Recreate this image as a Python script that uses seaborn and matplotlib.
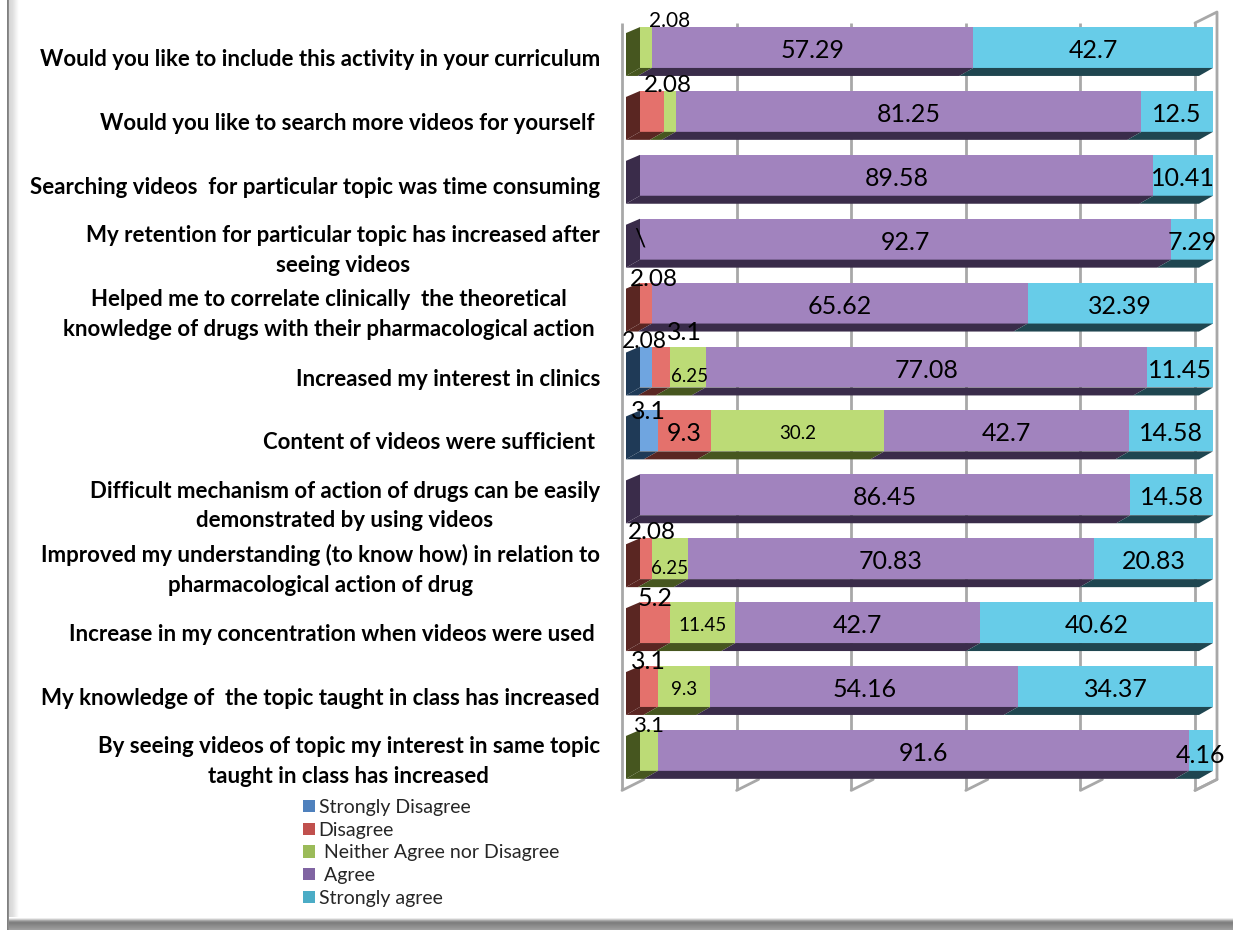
import numpy as np
import pandas as pd
import seaborn as sns
import matplotlib.pyplot as plt
from matplotlib.patches import Patch, Polygon
from matplotlib.transforms import ScaledTranslation

statements = [
    "Would you like to include this activity in your curriculum",
    "Would you like to search more videos for yourself ",
    "Searching videos  for particular topic was time consuming",
    "My retention for particular topic has increased after\nseeing videos",
    "Helped me to correlate clinically  the theoretical \nknowledge of drugs with their pharmacological action ",
    "Increased my interest in clinics",
    "Content of videos were sufficient ",
    "Difficult mechanism of action of drugs can be easily\ndemonstrated by using videos",
    "Improved my understanding (to know how) in relation to\npharmacological action of drug",
    "Increase in my concentration when videos were used ",
    "My knowledge of  the topic taught in class has increased",
    "By seeing videos of topic my interest in same topic\ntaught in class has increased",
]
levels = ["Strongly Disagree", "Disagree", " Neither Agree nor Disagree", " Agree", "Strongly agree"]

strongly_disagree = [0, 0, 0, 0, 0, 2.08, 3.1, 0, 0, 0, 0, 0]
disagree = [0, 4.16, 0, 0, 2.08, 3.1, 9.3, 0, 2.08, 5.2, 3.1, 0]
neither = [2.08, 2.08, 0, 0, 0, 6.25, 30.2, 0, 6.25, 11.45, 9.3, 3.1]
agree = [57.29, 81.25, 89.58, 92.7, 65.62, 77.08, 42.7, 86.45, 70.83, 42.7, 54.16, 91.6]
strongly_agree = [42.7, 12.5, 10.41, 7.29, 32.39, 11.45, 14.58, 14.58, 20.83, 40.62, 34.37, 4.16]

front_colors = ["#6fa5e0", "#e4716c", "#bcdb76", "#a183be", "#67cce8"]
side_colors = ["#1f3a57", "#5a2622", "#46561f", "#3a2c4a", "#1f4650"]
legend_colors = ["#4f81bd", "#c0504d", "#9bbb59", "#8064a2", "#4bacc6"]

# label tweaks in pixels: (row, level): (dx, dy, size), None hides the label
label_moves = {
    (0, 2): (24, -30, 15),
    (1, 1): None,
    (1, 2): (-2, -29, 17.5),
    (4, 1): (8, -27, 17.5),
    (5, 0): (-2, -29, 16.5),
    (5, 1): (24, -38, 18),
    (5, 2): (2, 6, 13.5),
    (6, 0): (0, -22, 18),
    (6, 2): (0, 0, 13.5),
    (8, 1): (6, -29, 17.5),
    (8, 2): (0, 7, 13.5),
    (9, 1): (0, -27, 18),
    (9, 2): (0, 0, 13.5),
    (10, 1): (0, -28, 18),
    (10, 2): (0, 0, 13.5),
    (11, 2): (0, -27, 16),
    (11, 4): (0, 2, 18),
}

sns.set_theme(style="white")
plt.rcParams["font.family"] = ["Lato", "DejaVu Sans"]

df = pd.DataFrame(
    dict(zip(levels, [strongly_disagree, disagree, neither, agree, strongly_agree])),
    index=statements,
)
# the chart is a 100% stacked bar, each row is scaled to its own total
share = df.div(df.sum(axis=1), axis=0) * 100
ends = share.cumsum(axis=1)
starts = ends.shift(1, axis=1).fillna(0)

fig = plt.figure(figsize=(12.33, 9.3), dpi=100)

# bevelled picture frame
bg = fig.add_axes([0, 0, 1, 1], zorder=0)
bg.axis("off")
left_shade = np.array([[1, 1, 1, 1, 1, 1, 1, 0.5, 0.55, 0.84, 0.85, 0.86, 0.87, 0.89, 0.91, 0.93, 0.95, 0.97, 0.99, 1]])
bg.imshow(left_shade, cmap="gray", vmin=0, vmax=1, extent=(0, 20, 930, 0), aspect="auto", interpolation="nearest")
bottom_shade = np.array([[1.0], [0.92], [0.8], [0.66], [0.56], [0.5], [0.5], [0.52], [0.54], [0.56], [0.58], [0.6], [0.62]])
bg.imshow(bottom_shade, cmap="gray", vmin=0, vmax=1, extent=(9, 1233, 930, 917), aspect="auto", interpolation="nearest")
bg.set_xlim(0, 1233)
bg.set_ylim(930, 0)

# plot area: 0-100 runs from x=640 to x=1213, rows are 63.9px apart
px_x = 5.73
px_y = 63.9
ax = fig.add_axes([600 / 1233, 130 / 930, 633 / 1233, 800 / 930], zorder=1)
ax.patch.set_alpha(0)

for i in range(len(levels) - 1, -1, -1):
    sns.barplot(
        x=ends[levels[i]].values, y=statements, order=statements, color=front_colors[i],
        saturation=1, width=0.64, linewidth=0, ax=ax, zorder=3,
    )

ax.set_xlim(-40 / px_x, 593 / px_x)
ax.set_ylim((800 - 47.5) / px_y, -47.5 / px_y)
ax.set_xlabel("")
ax.set_ylabel("")
ax.set_xticks([])
sns.despine(ax=ax, left=True, bottom=True, top=True, right=True)

ax.tick_params(axis="y", length=0, pad=0)
for lab in ax.get_yticklabels():
    lab.set_fontsize(16)
    lab.set_fontweight("bold")
    lab.set_color("black")
    lab.set_multialignment("center")
    lab.set_linespacing(1.5)
    # two line labels sit a little higher than one line labels
    drop = 5 if "\n" in lab.get_text() else 10
    lab.set_transform(lab.get_transform() + ScaledTranslation(0, -drop / 100, fig.dpi_scale_trans))

# depth of the fake 3d look
dx = 14 / px_x
dy = 8 / px_y
half = 0.32
grid_col = "#a8a8a8"
grid_x = [-18 / px_x + 20 * k for k in range(6)]
grid_top = -24.5 / px_y
floor_front = 11 + 40 / px_y
floor_back = 11 + 29 / px_y
for g in grid_x:
    ax.vlines(g, grid_top, floor_front, color=grid_col, lw=2, zorder=1)
    ax.plot([g, g + 22 / px_x], [floor_front, floor_back], color=grid_col, lw=2, zorder=1)
wall = grid_x[-1] + 22 / px_x
ax.plot([grid_x[-1], wall, wall, grid_x[-1]],
        [grid_top, grid_top - 11 / px_y, floor_back, floor_front],
        color=grid_col, lw=2, zorder=1)

for r, name in enumerate(statements):
    yb = r + half
    yt = r - half
    first = next(i for i, lv in enumerate(levels) if df.loc[name, lv] > 0)
    ax.add_patch(Polygon([(0, yt), (-dx, yt + dy * 0.75), (-dx, yb + dy), (0, yb)],
                         closed=True, fc=side_colors[first], ec="none", zorder=4))
    for i, lv in enumerate(levels):
        a, b = starts.loc[name, lv], ends.loc[name, lv]
        if b - a <= 0:
            continue
        ax.add_patch(Polygon([(a, yb), (b, yb), (b - dx, yb + dy), (a - dx, yb + dy)],
                             closed=True, fc=side_colors[i], ec="none", zorder=4))

        move = label_moves.get((r, i), (0, 0, 18))
        if move is None:
            continue
        mx, my, size = move
        ax.annotate(f"{df.loc[name, lv]:g}", ((a + b) / 2, r), xytext=(mx * 0.72, (-3 - my) * 0.72),
                    textcoords="offset points", ha="center", va="center", fontsize=size,
                    color="black", annotation_clip=False, zorder=6)

# stray mark that sits on the fourth bar in the original
ax.annotate("\\", (0, 3), xytext=(0, 0), textcoords="offset points", ha="center", va="center",
            fontsize=18, color="black", zorder=6)

handles = [Patch(fc=c, ec="none") for c in legend_colors]
fig.legend(
    handles, levels, loc="upper left", bbox_to_anchor=(303 / 1233, 1 - 799 / 930), frameon=False,
    fontsize=14, labelspacing=0.29, handlelength=0.6, handleheight=0.6, handletextpad=0.2,
    borderpad=0, borderaxespad=0,
)

fig.savefig("out.png", dpi=100)
